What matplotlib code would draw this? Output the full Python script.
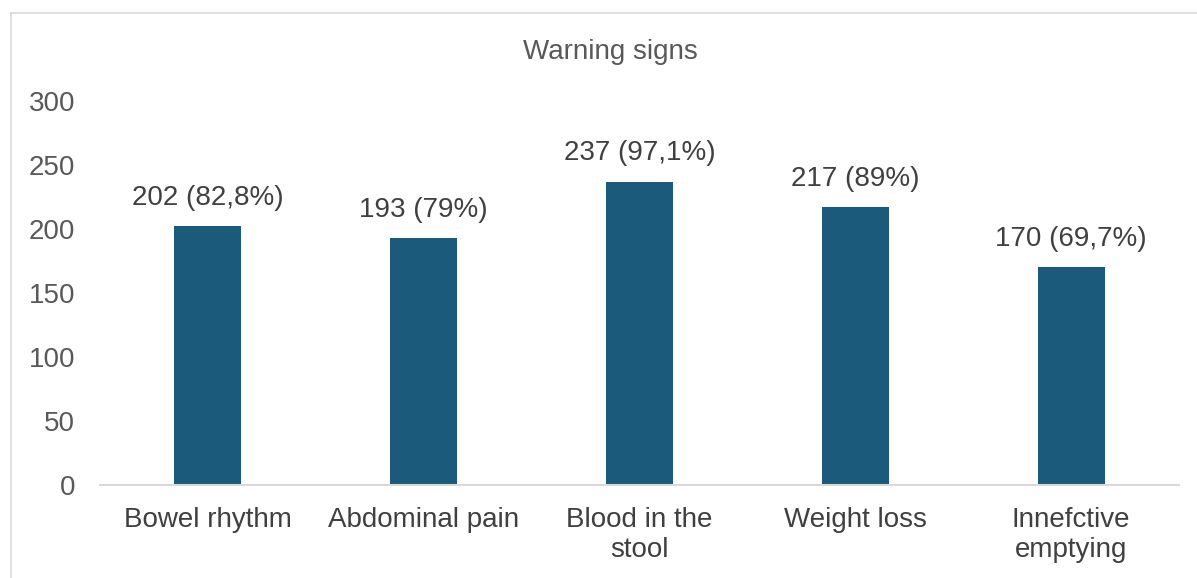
import matplotlib
matplotlib.use("Agg")
import matplotlib.pyplot as plt
from matplotlib.lines import Line2D

categories = ["Bowel rhythm", "Abdominal pain", "Blood in the\nstool", "Weight loss", "Innefctive\nemptying"]
counts = [202, 193, 237, 217, 170]
percent_labels = ["82,8%", "79%", "97,1%", "89%", "69,7%"]
yticks = [0, 50, 100, 150, 200, 250, 300]

plt.rcParams["font.family"] = ["Liberation Sans", "DejaVu Sans"]
text_color = "#595959"
label_color = "#404040"
bar_color = "#1B5A7A"
grid_color = "#D9D9D9"
fs = 20

W, H = 1197, 578
fig = plt.figure(figsize=(W / 100, H / 100), dpi=100)
ax = fig.add_axes([100 / W, 1 - 485 / H, (1179 - 100) / W, (485 - 101) / H])

x = list(range(len(categories)))
ax.bar(x, counts, width=0.31, color=bar_color, zorder=2)

for xi, c, p in zip(x, counts, percent_labels):
    ax.annotate(f"{c} ({p})", (xi, c), xytext=(0, 11), textcoords="offset points",
                ha="center", va="bottom", fontsize=fs, color=label_color)

ax.set_xlim(-0.5, len(categories) - 0.5)
ax.set_ylim(0, 300)
ax.set_yticks(yticks)
ax.set_xticks(x)
ax.set_xticklabels(categories, linespacing=1.2)
ax.tick_params(axis="both", length=0, labelsize=fs)
ax.tick_params(axis="y", pad=18, colors=text_color)
ax.tick_params(axis="x", pad=16, colors=label_color)
for s in ["top", "right", "left"]:
    ax.spines[s].set_visible(False)
ax.spines["bottom"].set_color(grid_color)
ax.spines["bottom"].set_linewidth(1.5)

fig.text(610 / W, 1 - 52 / H, "Warning signs", ha="center", va="center",
         fontsize=fs, color=text_color)

# chart area frame (top and left edges)
fig.add_artist(Line2D([10.5 / W, 1.0], [1 - 12.5 / H, 1 - 12.5 / H],
                      transform=fig.transFigure, color=grid_color, lw=1.2))
fig.add_artist(Line2D([10.5 / W, 10.5 / W], [0, 1 - 12.5 / H],
                      transform=fig.transFigure, color=grid_color, lw=1.2))

fig.savefig("out.png", dpi=100)
